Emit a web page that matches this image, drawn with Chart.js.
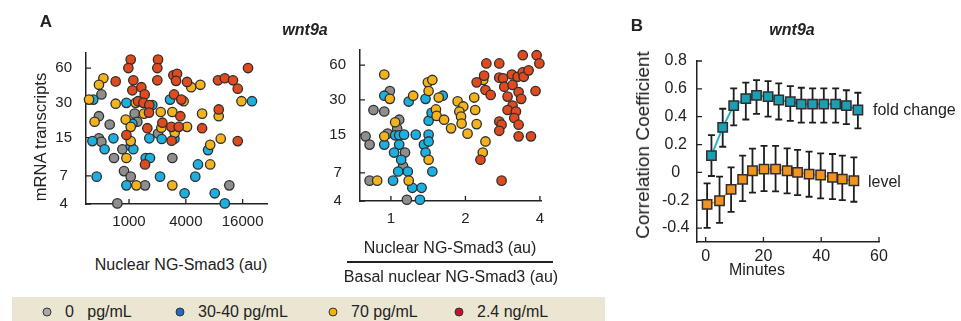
<!DOCTYPE html>
<html>
<head>
<meta charset="utf-8">
<script src="https://cdn.jsdelivr.net/npm/chart.js@4.4.0/dist/chart.umd.min.js"></script>
<style>
  body { margin: 0; background: #fff; }
  #fig { position: relative; width: 961px; height: 321px; overflow: hidden;
         font-family: 'Liberation Sans', Arial, sans-serif; color: #222; }
  #fig canvas { position: absolute; }
  .t { position: absolute; white-space: pre; transform: translate(-50%, -50%); font-size: 16px; }
  .rot { transform: translate(-50%, -50%) rotate(-90deg); }
  .panel { font-weight: bold; font-size: 17px; }
  .gene { font-weight: bold; font-style: italic; font-size: 16px; }
  .lbl { position: absolute; white-space: nowrap; transform: translateY(-50%); font-size: 16px; }
  #legend { position: absolute; left: 12px; top: 297px; width: 593px; height: 24px; background: #ebe6d2; }
  .dot { position: absolute; width: 7px; height: 7px; border-radius: 50%; border: 1.3px solid #333;
         transform: translate(-50%, -50%); top: 15px; }
  .ltxt { position: absolute; top: 15px; transform: translateY(-50%); font-size: 16px; white-space: pre; }
</style>
</head>
<body>
<div id="fig">
  <canvas id="absChart" width="290" height="240" style="left:0;top:0"></canvas>
  <canvas id="relChart" width="290" height="240" style="left:290px;top:0"></canvas>
  <canvas id="corrChart" width="371" height="280" style="left:590px;top:0"></canvas>

  <div class="t panel" style="left:46px;top:22px">A</div>
  <div class="t gene" style="left:305px;top:30px">wnt9a</div>
  <div class="t rot" style="left:40px;top:137px;font-size:16.5px">mRNA transcripts</div>
  <div class="t" style="left:181px;top:265px">Nuclear NG-Smad3 (au)</div>
  <div class="t" style="left:450px;top:248px">Nuclear NG-Smad3 (au)</div>
  <div style="position:absolute;left:347px;top:261px;width:206px;height:1.5px;background:#222"></div>
  <div class="t" style="left:451px;top:277px">Basal nuclear NG-Smad3 (au)</div>

  <div class="t panel" style="left:637px;top:26px">B</div>
  <div class="t gene" style="left:792px;top:30px">wnt9a</div>
  <div class="t rot" style="left:643px;top:145px;font-size:19px">Correlation Coefficient</div>
  <div class="t" style="left:757px;top:270px">Minutes</div>
  <div class="lbl" style="left:873px;top:110px">fold change</div>
  <div class="lbl" style="left:868px;top:182px">level</div>

  <div id="legend"></div>
</div>

<script>
// Smad3 doses
const doseLabels = ['0   pg/mL', '30-40 pg/mL', '70 pg/mL', '2.4 ng/mL'];
const doseColors = ['#8e8e8e', '#1bb0e0', '#f2b31c', '#df4a1f'];
const legendColors = ['#a9a9a9', '#1f6cc2', '#f1b10f', '#c4142a'];

// nuclear NG-Smad3 (au) vs mRNA transcripts, one array per dose
const abs0 = [[510,35.5],[480,23],[624,19.5],[1148,24.2],[1225,20.6],[2029,16.3],[480,14.8],[510,13.8],
  [850,11.9],[693,10],[2878,10],[885,7.7],[1042,6.9],[1478,5.8],[752,4.05],[11560,5.8]];
const abs1 = [[418,32],[938,30],[1767,28.7],[2721,32],[1085,19.8],[409,14],[683,14.8],[1641,14.8],
  [2220,14.6],[3030,14.7],[1042,12.7],[551,11.9],[1111,11.9],[1502,10],[1669,10],[454,6.9],[2132,6.9],
  [938,5.8],[20100,31],[6880,11.7],[5380,8.8],[5040,6.9],[3880,4.95],[8100,4.95],[10350,4.05]];
const abs2 = [[535,49],[480,43],[377,32],[722,29.5],[1177,30],[1442,24.2],[2167,25],[2878,25],
  [432,20.6],[922,21.5],[1042,18.6],[2202,18.3],[3050,16.5],[1042,14],[938,10],[1196,5.8],[2878,5.8],
  [4560,41],[5700,43],[3790,31],[5950,24.2],[4120,18.6],[8930,23],[9380,14.7],[7250,13],[7250,8.8],[15550,31]];
const abs3 = [[1042,71],[984,60],[2029,71],[1995,60],[722,46],[1111,47],[1995,47],[1085,38.5],
  [1351,41],[1466,35.5],[1246,31],[1420,30],[1641,28.7],[1628,24.7],[2257,20.2],[2810,18.6],[1563,18.1],
  [938,15.8],[1478,8.8],[3000,35.5],[2950,52],[2830,14.1],[3230,53.5],[3150,46.5],[4120,45.5],
  [3580,32],[3500,23],[3360,18.6],[5950,18.1],[8770,47],[10350,49],[12640,47],[14200,39.8],
  [18250,60],[8930,26.3],[14200,14]];

// nuclear / basal nuclear NG-Smad3 vs mRNA transcripts
const rel0 = [[0.99,35.8],[0.85,24.5],[0.94,23.8],[1.08,20.2],[1.06,16.9],[0.79,14.5],[0.97,15.3],
  [0.82,12.3],[1.14,10.5],[1.12,8.0],[0.82,6.0],[1.16,4.1]];
const rel1 = [[0.94,32.6],[1.18,29.0],[1.38,30.6],[1.62,32.6],[1.42,19.8],[1.46,23.2],[1.04,14.8],
  [1.08,14.8],[1.13,15],[1.26,15],[1.42,15],[0.94,12.3],[1.08,12.3],[1.36,12.3],[1.42,13.1],[1.03,10.5],
  [1.38,10.5],[1.10,9.1],[1.07,7.2],[1.17,7.2],[1.47,7.2],[1.02,6.0],[1.22,5.2],[1.33,5.2],[1.31,4.1]];
const rel2 = [[0.94,49.7],[0.99,30.6],[1.23,32.6],[1.56,31.4],[1.41,42.5],[1.47,44.6],[1.42,35.8],
  [1.04,19.2],[1.52,24.8],[1.53,21.8],[1.64,20.2],[0.94,14.5],[1.42,9.1],[0.88,6.0],[1.18,6.0],
  [1.86,29.1],[1.96,26.3],[1.89,23.8],[1.92,21.5],[1.93,18.7],[2.17,31.4],[2.19,24.5],[2.22,18.5],
  [1.75,17.0],[2.04,15.3],[2.41,13.1],[2.35,10.5],[2.36,44.6]];
const rel3 = [[2.43,62],[2.74,62],[3.41,73],[3.88,73],[3.98,62],[2.38,48.6],[2.22,42.5],[2.41,36.5],
  [2.53,33.1],[2.74,46.7],[2.84,46.1],[2.87,39],[3.10,40.4],[3.08,49.7],[3.25,47.5],[3.41,52],[3.44,47.5],
  [3.60,54],[2.96,32],[3.28,35],[3.36,30.6],[3.10,26.8],[2.96,24.5],[3.20,23.8],[3.15,20.9],[3.28,18.3],
  [2.74,19.5],[2.80,18.3],[2.74,16.2],[3.28,14.5],[3.68,14.5],[3.84,35.8],[2.30,9.1],[2.80,6.0]];

const mrnaTicks = [4, 7, 15, 30, 60];
const absTicks = [1000, 4000, 16000];
const relTicks = [1, 2, 4];

// correlation vs minutes
const fcTime = [2, 5.9, 9.7, 13.9, 17.6, 21.6, 25.3, 29.3, 33.1, 37, 40.9, 45, 48.7, 52.7];
const fcCorr = [0.12, 0.323, 0.48, 0.53, 0.553, 0.544, 0.52, 0.508, 0.49, 0.49, 0.49, 0.49, 0.48, 0.448];
const fcLow  = [-0.026, 0.184, 0.338, 0.38, 0.42, 0.40, 0.38, 0.37, 0.357, 0.357, 0.357, 0.357, 0.347, 0.316];
const fcHigh = [0.268, 0.457, 0.604, 0.644, 0.663, 0.656, 0.64, 0.62, 0.608, 0.604, 0.604, 0.604, 0.59, 0.572];
const lvTime = [0.5, 4.8, 8.8, 12.8, 16.2, 20.2, 24.2, 28.2, 31.8, 35.8, 39.8, 43.9, 47.3, 51.3];
const lvCorr = [-0.23, -0.204, -0.122, -0.05, 0.012, 0.024, 0.024, 0.012, 0, -0.012, -0.019, -0.036, -0.048, -0.06];
const lvLow  = [-0.398, -0.362, -0.283, -0.206, -0.146, -0.134, -0.137, -0.151, -0.163, -0.175, -0.187, -0.192, -0.199, -0.211];
const lvHigh = [-0.079, -0.031, 0.036, 0.12, 0.17, 0.19, 0.19, 0.173, 0.161, 0.149, 0.137, 0.132, 0.12, 0.108];
const corrTicks = [-0.4, -0.2, 0, 0.2, 0.4, 0.6, 0.8];
const minuteTicks = [0, 20, 40, 60];

Chart.defaults.font.family = "'Liberation Sans', Arial, sans-serif";
Chart.defaults.color = '#222';

// short ticks drawn inside the plot, matlab style
const inTicks = {
  id: 'inTicks',
  beforeDatasetsDraw(chart) {
    const ctx = chart.ctx, a = chart.chartArea;
    const sx = chart.scales.x, sy = chart.scales.y;
    ctx.save();
    ctx.strokeStyle = '#222';
    ctx.lineWidth = 1.3;
    ctx.beginPath();
    sx.ticks.forEach(t => { const p = sx.getPixelForValue(t.value); ctx.moveTo(p, a.bottom); ctx.lineTo(p, a.bottom - 5); });
    sy.ticks.forEach(t => { const p = sy.getPixelForValue(t.value); ctx.moveTo(a.left, p); ctx.lineTo(a.left + 5, p); });
    ctx.stroke();
    ctx.restore();
  }
};

// vertical error bars with caps
const errBars = {
  id: 'errBars',
  beforeDatasetsDraw(chart) {
    const ctx = chart.ctx, sx = chart.scales.x, sy = chart.scales.y;
    ctx.save();
    ctx.strokeStyle = '#1e1e1e';
    ctx.lineWidth = 1.8;
    chart.data.datasets.forEach(ds => {
      ds.data.forEach((pt, i) => {
        const x = sx.getPixelForValue(pt.x);
        const y0 = sy.getPixelForValue(ds.errLow[i]), y1 = sy.getPixelForValue(ds.errHigh[i]);
        ctx.beginPath();
        ctx.moveTo(x, y0); ctx.lineTo(x, y1);
        ctx.moveTo(x - 3.5, y0); ctx.lineTo(x + 3.5, y0);
        ctx.moveTo(x - 3.5, y1); ctx.lineTo(x + 3.5, y1);
        ctx.stroke();
      });
    });
    ctx.restore();
  }
};

function fixedAxis(type, min, max, tickVals, opts) {
  return Object.assign({
    type: type, min: min, max: max,
    afterBuildTicks: s => { s.ticks = tickVals.map(v => ({ value: v })); },
    ticks: { callback: v => String(v), autoSkip: false, maxRotation: 0, font: { size: 15 }, color: '#222' },
    grid: { display: false, drawTicks: false },
    border: { display: true, color: '#222', width: 1.5 }
  }, opts);
}

function scatterSets(groups) {
  return groups.map((g, i) => ({
    data: g.map(p => ({ x: p[0], y: p[1] })),
    backgroundColor: doseColors[i],
    borderColor: '#2e2e2e',
    borderWidth: 1.3,
    pointRadius: 4.7,
    order: 3 - i,
    clip: false
  }));
}

function scatterChart(id, groups, xMin, xMax, xTicks, yW, xH, pad) {
  const xAxis = fixedAxis('logarithmic', xMin, xMax, xTicks, { afterFit: s => { s.height = xH; } });
  xAxis.ticks.padding = 9;
  const yAxis = fixedAxis('logarithmic', 4, 81, mrnaTicks, { afterFit: s => { s.width = yW; } });
  yAxis.ticks.padding = 14;
  yAxis.ticks.crossAlign = 'center';
  return new Chart(document.getElementById(id), {
    type: 'scatter',
    data: { datasets: scatterSets(groups) },
    options: {
      responsive: false, animation: false, events: [],
      layout: { padding: pad },
      plugins: { legend: { display: false }, tooltip: { enabled: false } },
      scales: { x: xAxis, y: yAxis }
    },
    plugins: [inTicks]
  });
}

scatterChart('absChart', [abs0, abs1, abs2, abs3], 350, 29000, absTicks, 86, 36, { top: 53, right: 23, left: 0, bottom: 0 });
scatterChart('relChart', [rel0, rel1, rel2, rel3], 0.75, 4.04, relTicks, 70, 39, { top: 50, right: 39, left: 0, bottom: 0 });

// panel B
const corrX = fixedAxis('linear', -3, 60, minuteTicks, { afterFit: s => { s.height = 38; } });
corrX.ticks.padding = 5;
corrX.ticks.font = { size: 16 };
const corrY = fixedAxis('linear', -0.5, 0.8, corrTicks, { afterFit: s => { s.width = 107; } });
corrY.ticks.padding = 7.5;
corrY.ticks.crossAlign = 'center';
corrY.ticks.font = { size: 16 };
corrY.ticks.callback = v => (v === 0 ? '0' : v.toFixed(1));

new Chart(document.getElementById('corrChart'), {
  type: 'scatter',
  data: {
    datasets: [
      {
        label: 'fold change',
        data: fcTime.map((t, i) => ({ x: t, y: fcCorr[i] })),
        errLow: fcLow, errHigh: fcHigh,
        showLine: true, borderColor: '#25b6c9', borderWidth: 2,
        pointStyle: 'rect', pointRadius: 6.6,
        pointBackgroundColor: '#1c9fb2', pointBorderColor: '#2e2e2e', pointBorderWidth: 1.5,
        clip: false
      },
      {
        label: 'level',
        data: lvTime.map((t, i) => ({ x: t, y: lvCorr[i] })),
        errLow: lvLow, errHigh: lvHigh,
        showLine: true, borderColor: '#f7a23a', borderWidth: 1.8,
        pointStyle: 'rect', pointRadius: 6.6,
        pointBackgroundColor: '#f3931f', pointBorderColor: '#2e2e2e', pointBorderWidth: 1.5,
        clip: false
      }
    ]
  },
  options: {
    responsive: false, animation: false, events: [],
    layout: { padding: { top: 61, right: 82, left: 0, bottom: 0 } },
    plugins: { legend: { display: false }, tooltip: { enabled: false } },
    scales: { x: corrX, y: corrY }
  },
  plugins: [inTicks, errBars]
});

// dose legend strip
const legendLeft = [35, 168, 321, 447];
const legend = document.getElementById('legend');
doseLabels.forEach((lab, i) => {
  const dot = document.createElement('div');
  dot.className = 'dot';
  dot.style.left = legendLeft[i] + 'px';
  dot.style.background = legendColors[i];
  legend.appendChild(dot);
  const txt = document.createElement('div');
  txt.className = 'ltxt';
  txt.style.left = (legendLeft[i] + 18) + 'px';
  txt.textContent = lab;
  legend.appendChild(txt);
});
</script>
</body>
</html>
